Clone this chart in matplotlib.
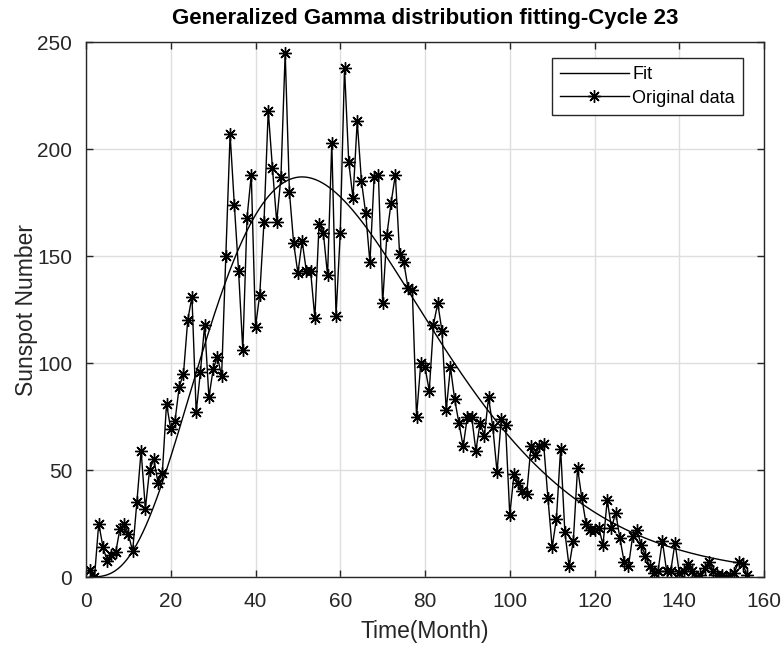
import numpy as np
import matplotlib
matplotlib.use("Agg")
import matplotlib.pyplot as plt

plt.rcParams['font.family'] = ['Liberation Sans', 'DejaVu Sans']

# Monthly sunspot numbers, solar cycle 23
months = np.arange(1, 157)
sunspots = [
    3.5, 0, 25, 14, 7.5, 10.5, 11.5, 22.5, 25, 20,
    12, 35, 59, 32, 50, 55, 44, 48.5, 81, 69,
    73, 89, 95, 120, 131, 77, 96, 118, 84, 97,
    103, 94, 150, 207, 174, 143, 106, 168, 188, 117,
    132, 166, 218, 191, 166, 187, 245, 180, 156, 142,
    157, 143, 143, 121, 165, 161, 141, 203, 122, 161,
    238, 194, 177, 213, 185, 170, 147, 187, 188, 128,
    160, 175, 188, 151, 147, 135, 134, 75, 100, 98,
    87, 118, 128, 115, 78, 98, 83, 72, 61, 75,
    75, 59, 72, 66, 84, 70, 49, 74, 71, 29,
    48, 44, 40, 39, 61, 57, 61, 62, 37, 14,
    27, 60, 21, 5, 17, 51, 37, 25, 22, 22,
    23, 15, 36, 23, 30, 18, 7, 5, 19, 22,
    15, 10, 5, 2, 3, 17, 3, 3, 16, 2,
    3, 6, 3, 0, 1, 4, 7, 3, 1, 1,
    0, 1, 2, 7, 6, 1,
]

# Generalized gamma fit: f(t) = K * (t/a)^(d-1) * exp(-(t/a)^p)
fit_peak = 187.0      # height of the fitted curve at its mode
fit_mode = 51.0       # month of the fitted maximum
fit_shape_d = 4.66
fit_shape_p = 1.0
fit_scale_a = fit_mode / ((fit_shape_d - 1) / fit_shape_p) ** (1 / fit_shape_p)

t_fit = np.linspace(1, 156, 600)


def gen_gamma(t):
    z = t / fit_scale_a
    zm = fit_mode / fit_scale_a
    g = z ** (fit_shape_d - 1) * np.exp(-z ** fit_shape_p)
    gm = zm ** (fit_shape_d - 1) * np.exp(-zm ** fit_shape_p)
    return fit_peak * g / gm


fig = plt.figure(figsize=(7.82, 6.46), dpi=100)
ax = fig.add_axes([0.110, 0.1068, 0.867, 0.828])

edge = '#262626'
ax.plot(t_fit, gen_gamma(t_fit), color='black', lw=1.0, label='Fit')
ax.plot(months, sunspots, color='black', lw=1.0, marker=(8, 2, 0),
        markersize=9, markeredgewidth=1.0, label='Original data')

ax.set_xlim(0, 160)
ax.set_ylim(0, 250)
ax.set_xticks(np.arange(0, 161, 20))
ax.set_yticks(np.arange(0, 251, 50))
ax.grid(True, color='#dedede', lw=1.0)
ax.set_axisbelow(True)
ax.tick_params(direction='in', length=5, width=1, colors=edge, labelsize=15,
               top=True, right=True, labelcolor=edge)
ax.tick_params(axis='x', pad=11)
ax.tick_params(axis='y', pad=10)
for s in ax.spines.values():
    s.set_color(edge)
    s.set_linewidth(1.0)

ax.set_xlabel('Time(Month)', fontsize=16.5, color=edge, labelpad=6)
ax.set_ylabel('Sunspot Number', fontsize=16.5, color=edge, labelpad=-1)
ax.set_title('Generalized Gamma distribution fitting-Cycle 23', fontsize=16,
             fontweight='bold', color='black', pad=13)

leg = ax.legend(loc='upper right', bbox_to_anchor=(0.969, 0.970),
                borderaxespad=0, fontsize=13, fancybox=False, framealpha=1,
                edgecolor=edge, handlelength=3.8, handletextpad=0.2,
                borderpad=0.45, labelspacing=0.35)
leg.get_frame().set_linewidth(1.0)

fig.savefig('out.png', dpi=100)
